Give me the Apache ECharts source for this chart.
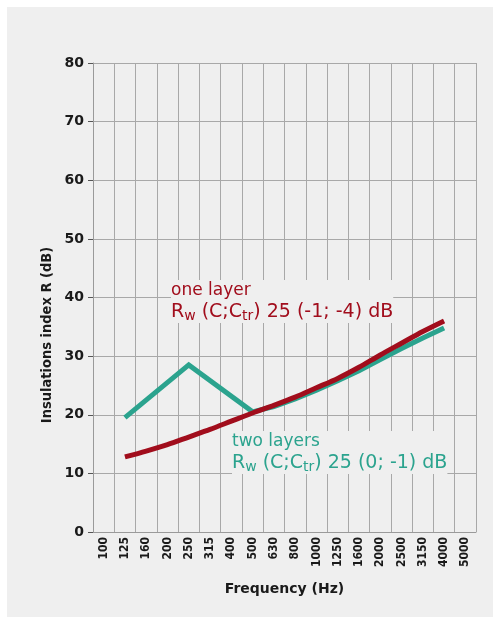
<!DOCTYPE html>
<html>
<head>
<meta charset="utf-8">
<script src="https://cdn.jsdelivr.net/npm/echarts@6/dist/echarts.min.js"></script>
<style>
    html, body { margin: 0; padding: 0; background: #ffffff; }
    #chart { width: 501px; height: 617px; }
</style>
</head>
<body>
<div id="chart"></div>
<script>
    // third-octave bands on the x axis
    var frequencies = ['100', '125', '160', '200', '250', '315', '400', '500', '630', '800',
        '1000', '1250', '1600', '2000', '2500', '3150', '4000', '5000'];
    // insulation index R (dB)
    var oneLayer = [null, 12.8, 13.8, 14.9, 16.2, 17.5, 18.9, 20.3, 21.6, 23.0,
        24.6, 26.2, 28.1, 30.2, 32.2, 34.2, 36.0, null];
    var twoLayers = [null, 19.5, null, null, 28.5, null, null, 20.5, 21.4, 22.7,
        24.2, 25.8, 27.5, 29.4, 31.3, 33.1, 34.8, null];
    var yMin = 0, yMax = 80, yStep = 10;

    var red = '#a10d1c';
    var teal = '#2ba38e';
    var panel = '#efefef';
    var font = 'DejaVu Sans Condensed';

    var chart = echarts.init(document.getElementById('chart'));

    // two-line note: title + Rw (C;Ctr) line with subscripts
    function note(x, y, color, title, rwParts) {
        return {
            type: 'text',
            left: x,
            top: y,
            z: 10,
            style: {
                text: '{t|' + title + '}\n{b|R}{s|w}{b| (C;C}{s|tr}{b|) ' + rwParts + '}',
                fill: color,
                backgroundColor: panel,
                rich: {
                    t: { fontSize: 17, fontFamily: 'DejaVu Sans', fill: color, lineHeight: 21 },
                    b: { fontSize: 19, fontFamily: 'DejaVu Sans', fill: color, lineHeight: 22 },
                    s: { fontSize: 14, fontFamily: 'DejaVu Sans', fill: color, lineHeight: 22, verticalAlign: 'bottom' }
                }
            }
        };
    }

    var option = {
        animation: false,
        backgroundColor: '#ffffff',
        grid: { left: 93, right: 25, top: 63, bottom: 85, show: false },
        graphic: [
            { type: 'rect', shape: { x: 7, y: 7, width: 486, height: 612 }, style: { fill: panel }, z: -10 },
            {
                type: 'text', x: 47, y: 335, rotation: Math.PI / 2, z: 5,
                style: {
                    text: 'Insulations index R (dB)', fill: '#1a1a1a',
                    font: 'bold 14.5px "' + font + '"', textAlign: 'center', textVerticalAlign: 'middle'
                }
            },
            note(171, 280, red, 'one layer', '25 (-1; -4) dB'),
            note(232, 431, teal, 'two layers', '25 (0; -1) dB')
        ],
        xAxis: {
            type: 'category',
            data: frequencies,
            boundaryGap: true,
            name: 'Frequency (Hz)',
            nameLocation: 'middle',
            nameGap: 50,
            nameTextStyle: { fontFamily: 'DejaVu Sans', fontWeight: 'bold', fontSize: 14, color: '#1a1a1a' },
            axisLine: { lineStyle: { color: '#9a9a9a', width: 1 } },
            axisTick: { show: false },
            axisLabel: {
                rotate: 90, interval: 0, margin: 5,
                fontFamily: font, fontWeight: 'bold', fontSize: 12, color: '#1a1a1a'
            },
            splitLine: { show: true, interval: 0, lineStyle: { color: '#a8a8a8', width: 1 } }
        },
        yAxis: {
            type: 'value',
            min: yMin, max: yMax, interval: yStep,
            axisLine: { show: true, lineStyle: { color: '#9a9a9a' } },
            axisTick: { show: true, length: 5, lineStyle: { color: '#555' } },
            axisLabel: { margin: 9, fontFamily: 'DejaVu Sans', fontWeight: 'bold', fontSize: 14, color: '#1a1a1a' },
            splitLine: { show: true, lineStyle: { color: '#a8a8a8', width: 1 } }
        },
        series: [
            {
                name: 'two layers', type: 'line', data: twoLayers, connectNulls: true,
                showSymbol: false, symbol: 'none',
                lineStyle: { color: teal, width: 5, cap: 'butt', join: 'miter' }
            },
            {
                name: 'one layer', type: 'line', data: oneLayer, connectNulls: true,
                showSymbol: false, symbol: 'none', smooth: 0.3,
                lineStyle: { color: red, width: 5, cap: 'butt' }
            }
        ]
    };
    chart.setOption(option);
</script>
</body>
</html>
